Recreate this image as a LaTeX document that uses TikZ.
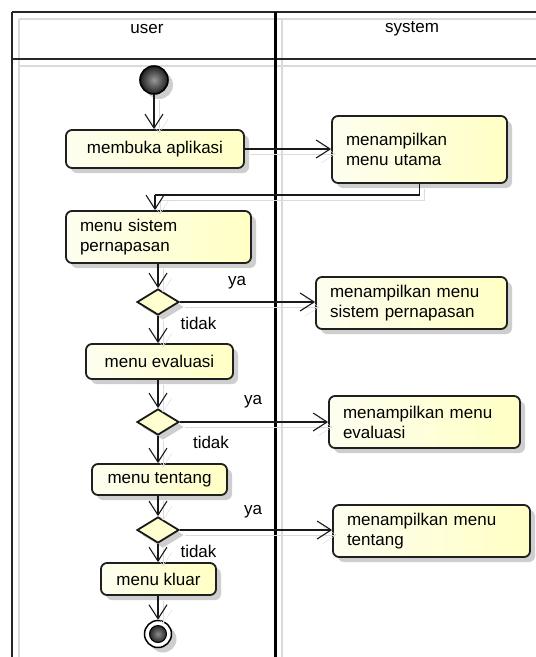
\documentclass[tikz,border=0pt]{standalone}
\usepackage{fontspec}
\setmainfont{Liberation Sans}
\usetikzlibrary{arrows.meta,shapes.geometric,shadows}
\definecolor{actL}{RGB}{254,254,240}
\definecolor{actR}{RGB}{255,255,196}
\definecolor{decF}{RGB}{255,255,208}
\definecolor{laneGray}{RGB}{218,218,218}
\begin{document}
\begin{tikzpicture}[x=1pt,y=-1pt,
  every node/.style={font=\fontsize{17pt}{20pt}\selectfont},
  softshadow/.style={drop shadow={shadow xshift=5pt,shadow yshift=-5pt,fill=black!38,opacity=0.5}},
  act/.style={draw=black!88,line width=1.8pt,rounded corners=6pt,
    left color=actL,right color=actR,inner ysep=0pt,softshadow},
  actc/.style 2 args={act,align=center,inner xsep=0pt,minimum width=#1,minimum height=#2},
  actl/.style 2 args={act,align=left,inner xsep=14pt,text width=#1,minimum height=#2},
  decision/.style={diamond,draw=black!90,line width=1.8pt,fill=decF,inner sep=0pt,
    minimum width=42pt,minimum height=26pt,softshadow},
  conn/.style={line width=1.1pt,draw=black!90,
    -{Straight Barb[length=14pt,width=18pt,line width=1.1pt]},
    preaction={draw=black!14,transform canvas={shift={(5pt,-5pt)}}}},
  plain/.style={line width=1.1pt,draw=black!90,
    preaction={draw=black!14,transform canvas={shift={(5pt,-5pt)}}}},
  lbl/.style={inner sep=0pt}
]
\clip (0,0) rectangle (536,657);
\useasboundingbox (0,0) rectangle (536,657);
\fill[white] (0,0) rectangle (536,657);

% swimlane frame
\draw[laneGray,line width=1.5pt] (19,19) -- (560,19) (19,19) -- (19,670)
  (19,66) -- (560,66) (282,19) -- (282,670);
\draw[black!85,line width=1.5pt] (12,12) -- (560,12) (12,12) -- (12,670) (12,59) -- (560,59);
\draw[black,line width=3pt] (275,12) -- (275,670);
\node (hu) at (147,29) {user};
\node (hs) at (412,29) {system};

% activities
\node[circle,draw=black,line width=1.6pt,minimum size=28pt,inner sep=0pt,
  inner color=black!40,outer color=black!88,softshadow] (start) at (154,80) {};
\node[actc={178pt}{38pt}] (n1) at (155,149) {membuka aplikasi};
\node[actl={147pt}{67pt}] (n2) at (419.5,149.5) {menampilkan\\menu utama};
\node[actl={157pt}{52pt}] (n3) at (158.5,237) {menu sistem\\pernapasan};
\node[decision] (d1) at (158,302) {};
\node[actl={163pt}{52pt}] (n4) at (411.5,303) {menampilkan menu\\sistem pernapasan};
\node[actc={147pt}{35pt}] (n5) at (159.5,361.5) {menu evaluasi};
\node[decision] (d2) at (158,422) {};
\node[actl={163pt}{52pt}] (n6) at (424.5,422) {menampilkan menu\\evaluasi};
\node[actc={135pt}{31pt}] (n7) at (159.5,479.5) {menu tentang};
\node[decision] (d3) at (158,530) {};
\node[actl={169pt}{52pt}] (n8) at (431.5,531) {menampilkan menu\\tentang};
\node[actc={115pt}{32pt}] (n9) at (158.5,579) {menu kluar};
\node[circle,draw=black,line width=1.5pt,fill=white,minimum size=27pt,inner sep=0pt,
  softshadow] (stop) at (158,634) {};
\node[circle,draw=black,line width=1pt,minimum size=17pt,inner sep=0pt,
  inner color=black!45,outer color=black!85] (stopdot) at (stop) {};

% guard labels
\node[lbl] (ya1) at (237,283) {ya};
\node[lbl] (td1) at (198.5,323) {tidak};
\node[lbl] (ya2) at (253,402) {ya};
\node[lbl] (td2) at (211,442) {tidak};
\node[lbl] (ya3) at (253,512) {ya};
\node[lbl] (td3) at (198.5,551) {tidak};

% flows
\coordinate (ret) at (155,195);
\draw[conn] (start.south) -- (start.south |- n1.north);
\draw[conn] (n1.east) -- (n1.east -| n2.west);
\draw[plain] (n2.south) |- (ret);
\draw[conn] (ret) -- (ret |- n3.north);
\draw[conn] (n3.south -| d1.north) -- (d1.north);
\draw[conn] (d1.east) -- (d1.east -| n4.west);
\draw[conn] (d1.south) -- (d1.south |- n5.north);
\draw[conn] (n5.south -| d2.north) -- (d2.north);
\draw[conn] (d2.east) -- (d2.east -| n6.west);
\draw[conn] (d2.south) -- (d2.south |- n7.north);
\draw[conn] (n7.south -| d3.north) -- (d3.north);
\draw[conn] (d3.east) -- (d3.east -| n8.west);
\draw[conn] (d3.south) -- (d3.south |- n9.north);
\draw[conn] (n9.south -| stop.north) -- (stop.north);
\end{tikzpicture}
\end{document}
